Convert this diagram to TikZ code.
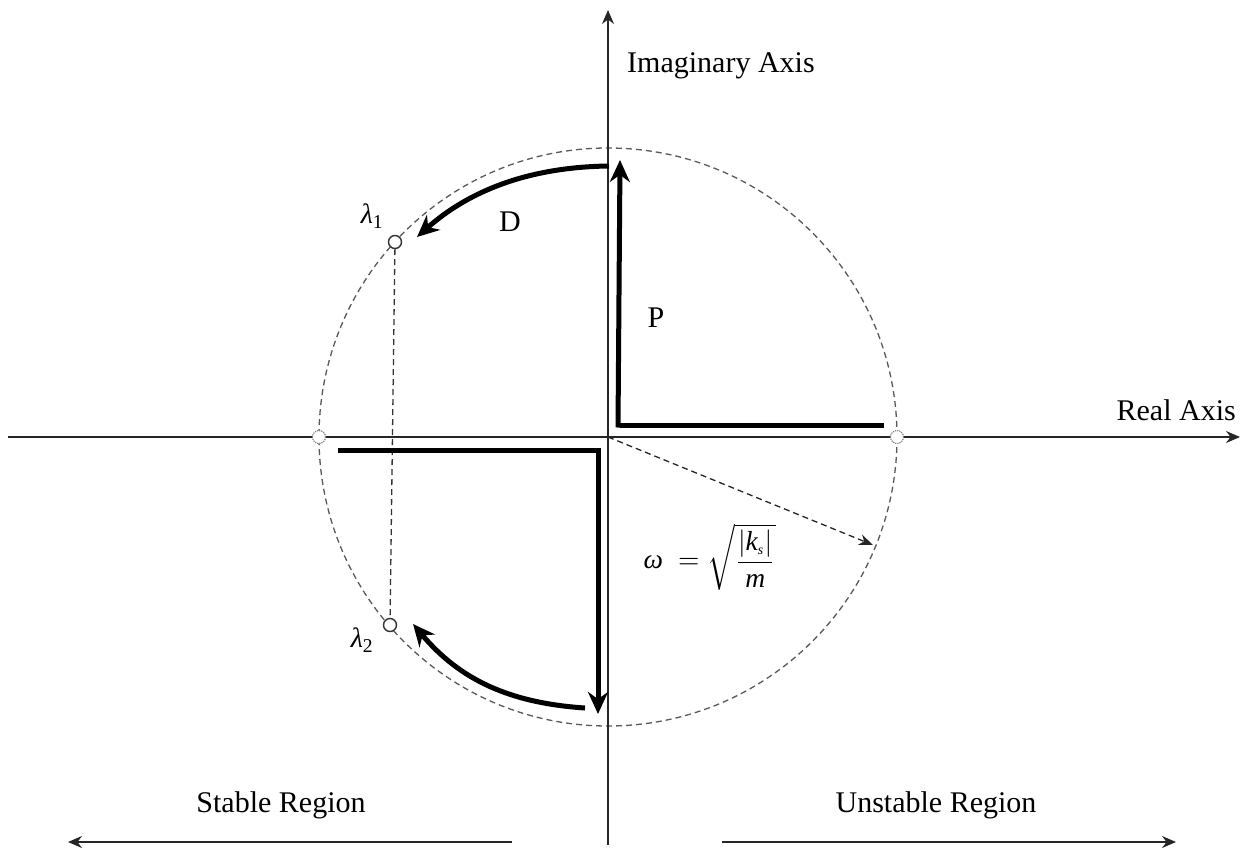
\documentclass[tikz,border=0pt]{standalone}
\usepackage{fontspec}
\setmainfont{Liberation Serif}
\usetikzlibrary{arrows.meta}
\begin{document}
\begin{tikzpicture}[x=1pt,y=-1pt,
  axis/.style={line width=1.4pt,draw=black!85},
  thick line/.style={line width=5pt},
  dcirc/.style={dashed,dash pattern=on 6pt off 4pt,line width=1.3pt,draw=black!65},
  pole/.style={circle,draw=black!80,line width=1.4pt,fill=white,minimum size=13pt,inner sep=0pt},
  axpt/.style={circle,draw=black!50,densely dotted,line width=1.2pt,fill=white,minimum size=13pt,inner sep=0pt},
  lbl/.style={font=\fontsize{30}{34}\selectfont,inner sep=0pt},
  bigtip/.style={-{Stealth[length=22pt,width=20pt]}},
  axtip/.style={-{Stealth[length=14pt,width=12pt]}}]
\useasboundingbox (0,0) rectangle (1246,850);
% coordinates
\coordinate (O) at (608,437);
\coordinate (xl) at (8,437);
\coordinate (xr) at (1240,437);
\coordinate (yb) at (608,845);
\coordinate (yt) at (608,10);
% dashed circle
\draw[dcirc] (O) circle[radius=289];
% axes
\draw[axis,axtip] (xl) -- (xr);
\draw[axis,axtip] (yb) -- (yt);
% axis points
\node[axpt] (L) at (319,437) {};
\node[axpt] (R) at (897,437) {};
% poles
\node[pole] (l1) at (395,242) {};
\node[pole] (l2) at (390,625) {};
\draw[dcirc,draw=black!80] (l1) -- (l2);
\node[lbl,font=\fontsize{28}{32}\selectfont\itshape] at (372,216) {λ\textsubscript{\upshape 1}};
\node[lbl,font=\fontsize{28}{32}\selectfont\itshape] at (362,640) {λ\textsubscript{\upshape 2}};
% P lines
\coordinate (p0) at (620,425);
\coordinate (p1) at (620,160);
\coordinate (p2) at (884,425);
\draw[thick line] (p2) -- (p0);
\draw[thick line,bigtip] (618,427.5) -- (p1);
% lower lines
\coordinate (q0) at (598,450);
\coordinate (q1) at (338,450);
\coordinate (q2) at (598,714);
\draw[thick line] (q1) -- (q0);
\draw[thick line,bigtip] (598,447.5) -- (q2);
% curved arrows
\coordinate (d0) at (609,166);
\coordinate (d1) at (417,237);
\draw[thick line,bigtip] (d0) .. controls (530,167) and (470,190) .. (d1);
\coordinate (e0) at (585,708);
\coordinate (e1) at (413,624);
\draw[thick line,bigtip] (e0) .. controls (510,703) and (460,680) .. (e1);
% labels
\node[lbl] (D) at (510,222) {D};
\node[lbl] (P) at (656,318) {P};
\node[lbl,anchor=west] (ia) at (627,66) {Imaginary Axis};
\node[lbl,anchor=east] (ra) at (1236,410) {Real Axis};
% radius arrow
\coordinate (w) at (873,545);
\draw[dcirc,draw=black!85,-{Stealth[length=14pt,width=11pt]}] (O) -- (w);
\node[inner sep=0pt,anchor=west,scale=2.75] (om) at (643,557) {\textit{ω}\;\;$=\sqrt{\displaystyle\frac{\left|\textit{k}_{\mbox{\tiny\itshape s}}\right|}{\textit{m}}}$};
% regions
\node[lbl] (sr) at (281,805) {Stable Region};
\node[lbl] (ur) at (936,805) {Unstable Region};
\coordinate (s0) at (512,842);
\coordinate (s1) at (68,842);
\coordinate (u0) at (722,842);
\coordinate (u1) at (1176,842);
\draw[axis,axtip] (s0) -- (s1);
\draw[axis,axtip] (u0) -- (u1);
\end{tikzpicture}
\end{document}
